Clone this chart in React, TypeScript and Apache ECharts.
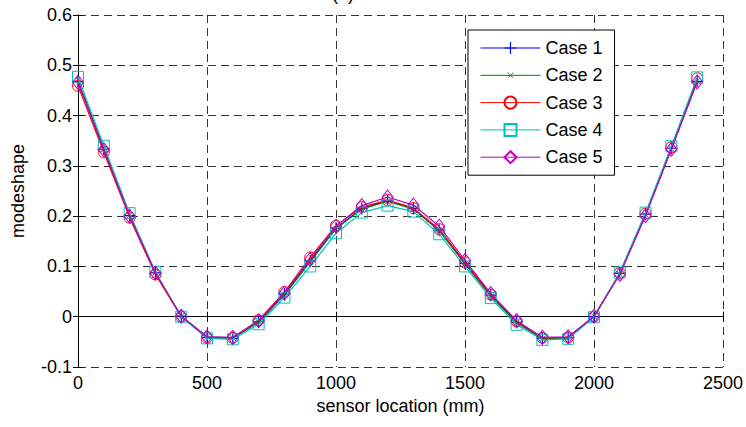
import React, { useEffect, useRef } from "react";
import * as echarts from "echarts";

const sensorX = [0, 100, 200, 300, 400, 500, 600, 700, 800, 900, 1000, 1100, 1200, 1300, 1400, 1500, 1600, 1700, 1800, 1900, 2000, 2100, 2200, 2300, 2400];
const case1 = [0.468, 0.333, 0.201, 0.087, 0.001, -0.041, -0.043, -0.010, 0.045, 0.111, 0.176, 0.215, 0.231, 0.215, 0.172, 0.106, 0.043, -0.011, -0.043, -0.042, 0.000, 0.086, 0.204, 0.335, 0.468];
const case2 = [0.470, 0.334, 0.202, 0.088, 0.001, -0.040, -0.042, -0.011, 0.043, 0.109, 0.175, 0.214, 0.230, 0.214, 0.171, 0.105, 0.041, -0.012, -0.044, -0.043, 0.001, 0.085, 0.203, 0.334, 0.469];
const case3 = [0.459, 0.327, 0.197, 0.084, 0.000, -0.042, -0.042, -0.007, 0.049, 0.118, 0.181, 0.218, 0.232, 0.216, 0.174, 0.108, 0.044, -0.009, -0.042, -0.041, 0.000, 0.087, 0.205, 0.337, 0.474];
const case4 = [0.477, 0.340, 0.206, 0.089, 0.000, -0.043, -0.045, -0.015, 0.038, 0.100, 0.166, 0.207, 0.221, 0.209, 0.164, 0.100, 0.037, -0.016, -0.046, -0.044, -0.001, 0.088, 0.207, 0.339, 0.476];
const case5 = [0.466, 0.332, 0.200, 0.087, 0.001, -0.040, -0.041, -0.008, 0.047, 0.114, 0.180, 0.221, 0.238, 0.222, 0.180, 0.112, 0.046, -0.008, -0.041, -0.040, 0.001, 0.084, 0.201, 0.333, 0.467];
const caseNames = ["Case 1", "Case 2", "Case 3", "Case 4", "Case 5"];
const caseColors = ["#0000FF", "#008000", "#FF0000", "#00BFBF", "#BF00BF"];

const FONT = "'Liberation Sans', Arial, sans-serif";
const FS = 18;

const PLUS = "path://M4.5,0L5.5,0L5.5,4.5L10,4.5L10,5.5L5.5,5.5L5.5,10L4.5,10L4.5,5.5L0,5.5L0,4.5L4.5,4.5Z";
const CROSS =
  "path://M0,0L0.05,0L0.05,0.05L0,0.05Z M19.95,19.95L20,19.95L20,20L19.95,20Z " +
  "M5,5.7L5.7,5L10,9.3L14.3,5L15,5.7L10.7,10L15,14.3L14.3,15L10,10.7L5.7,15L5,14.3L9.3,10Z";

export default function App() {
  const ref = useRef<HTMLDivElement>(null);
  useEffect(() => {
    if (!ref.current) return;
    const chart = echarts.init(ref.current, null, { renderer: "svg" });
    const allData = [case1, case2, case3, case4, case5];
    const symbols = [PLUS, CROSS, "circle", "rect", "diamond"];
    const sizes: any[] = [12, 12, 11, 11, [11, 14]];
    const filled = [true, true, false, false, false];
    const series = allData.map((d, i) => ({
      name: caseNames[i],
      type: "line",
      data: sensorX.map((x, j) => [x, d[j]]),
      symbol: symbols[i],
      symbolSize: sizes[i],
      showAllSymbol: true,
      z: 2 + i,
      lineStyle: { color: caseColors[i], width: 1.2 },
      itemStyle: filled[i]
        ? { color: caseColors[i], borderWidth: 0 }
        : { color: "rgba(0,0,0,0)", borderColor: caseColors[i], borderWidth: 1 },
      emphasis: { disabled: true },
    }));
    const tickFmt = (v: number) => String(Math.round(v * 10) / 10);
    const xCommon = { type: "value", min: 0, max: 2500, interval: 500 };
    const yCommon = { type: "value", min: -0.1, max: 0.6, interval: 0.1 };
    const boxAxisLine = { show: true, lineStyle: { color: "#000", width: 1 } };
    const boxTick = { show: true, inside: true, length: 5, lineStyle: { color: "#000" } };
    const dashed = { show: true, lineStyle: { color: "#333", type: [8, 5], width: 1 } };
    chart.setOption({
      animation: false,
      backgroundColor: "#ffffff",
      textStyle: { fontFamily: FONT },
      grid: { left: 78, right: 21, top: 15, bottom: 60, containLabel: false },
      legend: {
        orient: "vertical",
        left: 468,
        top: 30,
        padding: [9, 12, 9, 12],
        itemWidth: 60,
        itemHeight: 15,
        itemGap: 9.3,
        backgroundColor: "#ffffff",
        borderColor: "#000000",
        borderWidth: 1,
        lineStyle: { width: 1 },
        textStyle: { fontSize: FS, color: "#000", fontFamily: FONT },
        data: caseNames,
      },
      xAxis: [
        {
          ...xCommon,
          position: "bottom",
          name: "sensor location (mm)",
          nameLocation: "middle",
          nameGap: 29,
          nameTextStyle: { fontSize: FS, color: "#000", fontFamily: FONT },
          axisLine: boxAxisLine,
          axisTick: boxTick,
          axisLabel: { fontSize: FS, color: "#000", margin: 7, formatter: (v: number) => String(v), fontFamily: FONT },
          splitLine: dashed,
        },
        {
          ...xCommon,
          position: "top",
          axisLine: boxAxisLine,
          axisTick: boxTick,
          axisLabel: { show: false },
          splitLine: { show: false },
        },
      ],
      yAxis: [
        {
          ...yCommon,
          position: "left",
          name: "modeshape",
          nameLocation: "middle",
          nameGap: 51,
          nameTextStyle: { fontSize: FS, color: "#000", fontFamily: FONT },
          axisLine: boxAxisLine,
          axisTick: boxTick,
          axisLabel: { fontSize: FS, color: "#000", margin: 6, formatter: tickFmt, fontFamily: FONT },
          splitLine: dashed,
        },
        {
          ...yCommon,
          position: "right",
          axisLine: boxAxisLine,
          axisTick: boxTick,
          axisLabel: { show: false },
          splitLine: { show: false },
        },
      ],
      graphic: [
        {
          type: "text",
          x: 343,
          y: -15,
          style: { text: "(a)", font: `${FS}px ${FONT}`, fill: "#000", textAlign: "center" },
        },
      ],
      series,
    });
    return () => chart.dispose();
  }, []);
  return (
    <div
      ref={ref}
      style={{ position: "fixed", left: 0, top: 0, width: 746, height: 427, background: "#fff" }}
    />
  );
}
